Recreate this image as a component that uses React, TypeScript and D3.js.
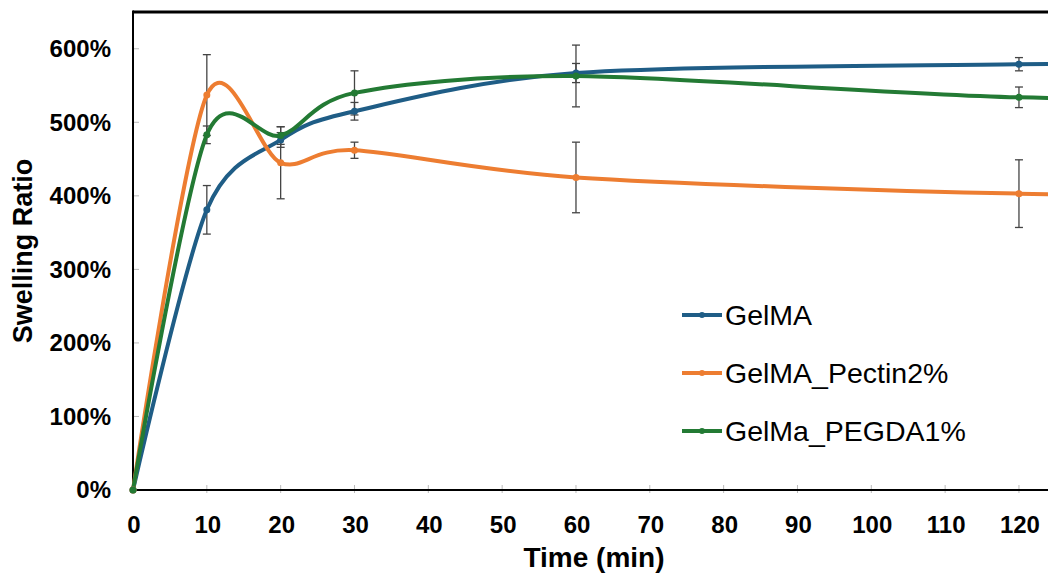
import React from "react";
import * as d3 from "d3";

// time points (min); the last point sits past the cropped right edge
const times = [0, 10, 20, 30, 60, 120, 180];

const seriesNames = ["GelMA", "GelMA_Pectin2%", "GelMa_PEGDA1%"];
const colors = ["#1f5d86", "#ed7d31", "#237a34"];

// swelling ratio in %
const gelma = [0, 381, 476, 515, 567, 579, 582];
const gelmaErr = [0, 33, 10, 12, 13, 9, 9];
const pectin = [0, 537, 445, 462, 425, 403, 400];
const pectinErr = [0, 55, 49, 11, 48, 46, 46];
const pegda = [0, 483, 482, 540, 563, 534, 534];
const pegdaErr = [0, 12, 12, 30, 42, 14, 14];

const xTicks = [0, 10, 20, 30, 40, 50, 60, 70, 80, 90, 100, 110, 120];
const yTicks = [0, 100, 200, 300, 400, 500, 600];

const W = 1048;
const H = 576;
const left = 133;
const top = 12;
const bottom = 490;

export default function App() {
  const x = d3.scaleLinear().domain([0, 130]).range([left, left + 130 * 7.383]);
  const y = d3.scaleLinear().domain([0, 650]).range([bottom, top]);

  const series = [
    { name: seriesNames[0], vals: gelma, err: gelmaErr, color: colors[0] },
    { name: seriesNames[1], vals: pectin, err: pectinErr, color: colors[1] },
    { name: seriesNames[2], vals: pegda, err: pegdaErr, color: colors[2] },
  ];

  // excel-like smoothed line
  const line = d3
    .line<[number, number]>()
    .x((d) => x(d[0]))
    .y((d) => y(d[1]))
    .curve(d3.curveCardinal.tension(0.12));

  const font = "'Liberation Sans', Arial, Helvetica, sans-serif";

  return (
    <svg
      width={W}
      height={H}
      style={{ position: "absolute", left: 0, top: 0, background: "#fff" }}
      fontFamily={font}
    >
      <rect x={0} y={0} width={W} height={H} fill="#fff" />

      {/* tick marks */}
      {yTicks.map((t) => (
        <line key={"yt" + t} x1={left} x2={left + 6} y1={y(t)} y2={y(t)} stroke="#bbb" strokeWidth={1} />
      ))}
      {xTicks.map((t) => (
        <line key={"xt" + t} x1={x(t)} x2={x(t)} y1={bottom - 5} y2={bottom + 3} stroke="#bbb" strokeWidth={1} />
      ))}

      {/* axes + frame */}
      <line x1={left} x2={W} y1={top} y2={top} stroke="#000" strokeWidth={3} />
      <line x1={left} x2={left} y1={top - 1.5} y2={bottom} stroke="#000" strokeWidth={2} />
      <line x1={left} x2={W} y1={bottom} y2={bottom} stroke="#000" strokeWidth={2} />

      {/* error bars */}
      {series.map((s, si) =>
        s.vals.map((v, i) =>
          s.err[i] > 0 ? (
            <g key={"e" + si + "-" + i} stroke="#444" strokeWidth={1.3}>
              <line x1={x(times[i])} x2={x(times[i])} y1={y(v - s.err[i])} y2={y(v + s.err[i])} />
              <line x1={x(times[i]) - 4} x2={x(times[i]) + 4} y1={y(v - s.err[i])} y2={y(v - s.err[i])} />
              <line x1={x(times[i]) - 4} x2={x(times[i]) + 4} y1={y(v + s.err[i])} y2={y(v + s.err[i])} />
            </g>
          ) : null
        )
      )}

      {/* lines */}
      {series.map((s, si) => (
        <path
          key={"l" + si}
          d={line(s.vals.map((v, i) => [times[i], v] as [number, number])) || ""}
          fill="none"
          stroke={s.color}
          strokeWidth={4}
          strokeLinejoin="round"
        />
      ))}
      {series.map((s, si) =>
        s.vals.map((v, i) => (
          <circle key={"m" + si + "-" + i} cx={x(times[i])} cy={y(v)} r={3.5} fill={s.color} />
        ))
      )}

      {/* tick labels */}
      {yTicks.map((t) => (
        <text key={"yl" + t} x={111} y={y(t)} dy="0.35em" textAnchor="end" fontSize={24} fontWeight="bold" fill="#000">
          {t + "%"}
        </text>
      ))}
      {xTicks.map((t) => (
        <text key={"xl" + t} x={x(t) + 1} y={533} textAnchor="middle" fontSize={24} fontWeight="bold" fill="#000">
          {t}
        </text>
      ))}

      {/* axis titles */}
      <text x={594} y={567} textAnchor="middle" fontSize={28} fontWeight="bold" fill="#000">
        Time (min)
      </text>
      <text
        transform={`translate(32, 251) rotate(-90)`}
        textAnchor="middle"
        fontSize={27}
        fontWeight="bold"
        fill="#000"
      >
        Swelling Ratio
      </text>

      {/* legend */}
      {series.map((s, si) => {
        const ly = 315 + si * 58;
        return (
          <g key={"lg" + si}>
            <line x1={682} x2={722} y1={ly} y2={ly} stroke={s.color} strokeWidth={4} />
            <circle cx={702} cy={ly} r={3} fill={s.color} />
            <text x={725} y={ly + 10} fontSize={28.5} fill="#000">
              {s.name}
            </text>
          </g>
        );
      })}
    </svg>
  );
}
